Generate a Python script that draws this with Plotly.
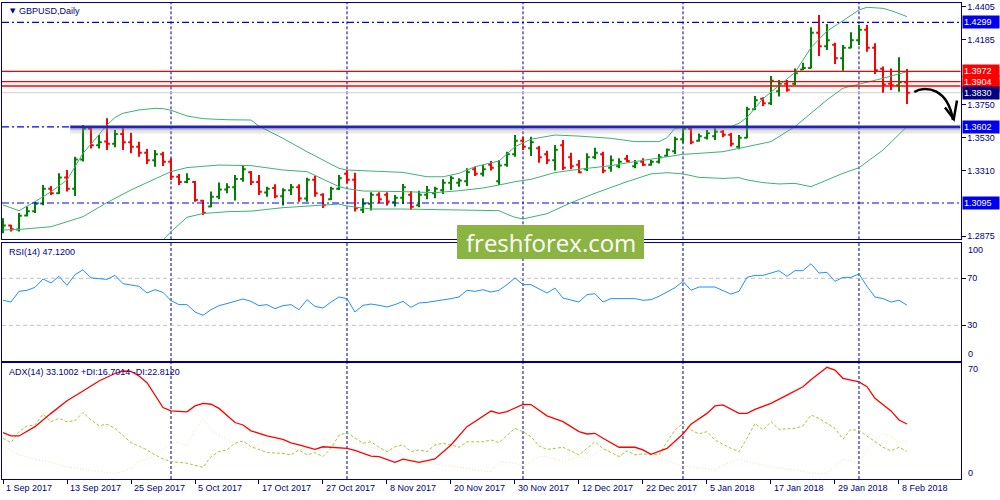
import plotly.graph_objects as go

# ---------------- data ----------------
BAR_IDX = list(range(114))  # trading days 1 Sep 2017 .. 9 Feb 2018
OPEN = [1.2910,1.2945,1.2918,1.3012,1.3040,1.3092,1.3190,1.3160,1.3265,1.3190,
        1.3385,1.3590,1.3480,1.3505,1.3490,1.3555,1.3500,1.3470,1.3430,1.3380,
        1.3420,1.3370,1.3270,1.3235,1.3235,1.3110,1.3072,1.3137,1.3185,1.3200,
        1.3255,1.3300,1.3235,1.3165,1.3195,1.3140,1.3180,1.3200,1.3125,1.3250,
        1.3150,1.3120,1.3190,1.3290,1.3250,1.3050,1.3090,1.3150,1.3150,1.3100,
        1.3130,1.3150,1.3080,1.3150,1.3160,1.3180,1.3230,1.3230,1.3240,1.3320,
        1.3290,1.3350,1.3240,1.3350,1.3420,1.3510,1.3460,1.3460,1.3420,1.3380,
        1.3480,1.3400,1.3350,1.3320,1.3400,1.3420,1.3330,1.3340,1.3390,1.3340,
        1.3370,1.3350,1.3370,1.3410,1.3440,1.3520,1.3590,1.3510,1.3530,1.3540,
        1.3570,1.3550,1.3470,1.3530,1.3720,1.3790,1.3760,1.3840,1.3890,1.3890,
        1.3985,1.3995,1.4230,1.4140,1.4150,1.4060,1.4130,1.4180,1.4250,1.4130,
        1.3990,1.3890,1.3880,1.3900]
HIGH = [1.2994,1.2950,1.3028,1.3072,1.3104,1.3215,1.3209,1.3293,1.3315,1.3404,
        1.3615,1.3608,1.3548,1.3659,1.3582,1.3593,1.3564,1.3504,1.3455,1.3448,
        1.3437,1.3393,1.3288,1.3293,1.3242,1.3115,1.3171,1.3231,1.3226,1.3282,
        1.3342,1.3308,1.3282,1.3204,1.3220,1.3193,1.3222,1.3220,1.3264,1.3275,
        1.3160,1.3204,1.3282,1.3315,1.3297,1.3126,1.3166,1.3166,1.3166,1.3149,
        1.3222,1.3175,1.3177,1.3209,1.3204,1.3253,1.3277,1.3260,1.3326,1.3337,
        1.3348,1.3375,1.3382,1.3437,1.3548,1.3537,1.3537,1.3475,1.3444,1.3482,
        1.3515,1.3430,1.3382,1.3426,1.3464,1.3437,1.3411,1.3393,1.3415,1.3382,
        1.3393,1.3382,1.3422,1.3459,1.3537,1.3604,1.3604,1.3559,1.3582,1.3593,
        1.3582,1.3564,1.3548,1.3737,1.3808,1.3799,1.3941,1.3915,1.3915,1.3992,
        1.4030,1.4266,1.4348,1.4288,1.4163,1.4148,1.4232,1.4281,1.4281,1.4159,
        1.4004,1.3992,1.4066,1.3988]
LOW = [1.2894,1.2905,1.2905,1.3005,1.3028,1.3080,1.3149,1.3155,1.3171,1.3142,
       1.3371,1.3459,1.3459,1.3448,1.3466,1.3448,1.3426,1.3404,1.3355,1.3337,
       1.3342,1.3248,1.3215,1.3226,1.3104,1.3016,1.3067,1.3120,1.3160,1.3111,
       1.3237,1.3215,1.3149,1.3137,1.3126,1.3078,1.3149,1.3104,1.3104,1.3137,
       1.3061,1.3115,1.3182,1.3226,1.3039,1.3028,1.3045,1.3093,1.3078,1.3072,
       1.3089,1.3050,1.3067,1.3120,1.3126,1.3155,1.3182,1.3204,1.3209,1.3275,
       1.3271,1.3311,1.3215,1.3337,1.3404,1.3448,1.3408,1.3364,1.3355,1.3311,
       1.3315,1.3320,1.3293,1.3308,1.3386,1.3293,1.3304,1.3326,1.3366,1.3326,
       1.3342,1.3344,1.3359,1.3404,1.3422,1.3493,1.3486,1.3504,1.3519,1.3515,
       1.3533,1.3471,1.3453,1.3526,1.3715,1.3741,1.3748,1.3804,1.3837,1.3881,
       1.3981,1.3992,1.4075,1.4114,1.4021,1.3977,1.4126,1.4148,1.4103,1.3955,
       1.3830,1.3848,1.3837,1.3755]
CLOSE = [1.2945,1.2920,1.3010,1.3040,1.3090,1.3190,1.3160,1.3265,1.3190,1.3385,
         1.3590,1.3480,1.3500,1.3490,1.3555,1.3500,1.3470,1.3430,1.3380,1.3420,
         1.3370,1.3270,1.3235,1.3255,1.3115,1.3030,1.3137,1.3185,1.3200,1.3255,
         1.3320,1.3235,1.3170,1.3190,1.3140,1.3180,1.3200,1.3125,1.3250,1.3160,
         1.3080,1.3190,1.3260,1.3250,1.3060,1.3090,1.3150,1.3120,1.3105,1.3130,
         1.3200,1.3070,1.3150,1.3180,1.3190,1.3230,1.3260,1.3245,1.3300,1.3290,
         1.3320,1.3330,1.3345,1.3420,1.3510,1.3470,1.3500,1.3400,1.3380,1.3450,
         1.3330,1.3340,1.3300,1.3400,1.3430,1.3310,1.3380,1.3370,1.3375,1.3360,
         1.3350,1.3370,1.3400,1.3450,1.3520,1.3590,1.3500,1.3540,1.3560,1.3570,
         1.3550,1.3490,1.3530,1.3720,1.3780,1.3760,1.3910,1.3890,1.3850,1.3960,
         1.3995,1.4230,1.4140,1.4180,1.4060,1.4130,1.4180,1.4250,1.4130,1.3980,
         1.3885,1.3880,1.3900,1.3830]

BB_UP_X = [0,2,4,6,8,10,11,13,14,15,17,19,20,21,23,25,28,31,32,35,38,42,43,46,50,53,55,57,59,62,
           64,66,69,72,76,79,82,83,84,86,89,91,92,93,95,97,99,101,103,105,107,108,110,111,113]
BB_UP = [1.3082,1.3044,1.3104,1.3170,1.3248,1.3426,1.3488,1.3615,1.3665,1.3693,1.3715,1.3726,1.3724,
         1.3713,1.3675,1.3657,1.3650,1.3648,1.3607,1.3526,1.3437,1.3326,1.3315,1.3310,1.3299,1.3270,
         1.3270,1.3293,1.3337,1.3375,1.3470,1.3520,1.3548,1.3541,1.3526,1.3504,1.3504,1.3530,1.3593,
         1.3604,1.3604,1.3604,1.3626,1.3665,1.3790,1.3880,1.3965,1.4130,1.4240,1.4310,1.4381,1.4399,
         1.4392,1.4377,1.4337]
BB_MID_X = [0,2,6,10,13,16,20,21,23,27,31,35,38,40,42,43,45,50,54,57,60,62,64,66,69,72,76,79,81,83,
            85,87,90,92,93,96,99,101,103,105,108,110,113]
BB_MID = [1.2915,1.2919,1.2937,1.3004,1.3098,1.3182,1.3280,1.3304,1.3331,1.3348,1.3344,1.3315,1.3304,
          1.3255,1.3204,1.3191,1.3175,1.3171,1.3164,1.3177,1.3195,1.3215,1.3237,1.3253,1.3298,1.3320,
          1.3344,1.3371,1.3386,1.3399,1.3419,1.3426,1.3437,1.3459,1.3470,1.3504,1.3604,1.3693,1.3782,
          1.3860,1.3897,1.3926,1.3970]
BB_LOW_X = [20,21,23,25,28,31,35,39,42,43,46,50,55,60,62,63,64,65,68,71,74,78,81,83,85,87,90,92,93,95,
            97,99,101,102,105,107,110,113]
BB_LOW = [1.2849,1.2904,1.3000,1.3025,1.3037,1.3041,1.3064,1.3080,1.3088,1.3075,1.3055,1.3055,1.3050,
          1.3046,1.3044,1.3020,1.3000,1.2989,1.3024,1.3097,1.3160,1.3237,1.3289,1.3297,1.3289,1.3266,
          1.3259,1.3264,1.3249,1.3231,1.3222,1.3226,1.3204,1.3226,1.3293,1.3330,1.3448,1.3604]

RSI = [51.3,49.8,58.9,59.8,62.3,69.4,66.0,71.7,64.0,73.1,77.3,70.3,69.7,69.1,72.5,65.4,64.3,63.2,57.5,60.3,
       58.0,51.0,47.6,47.6,41.3,38.5,43.3,46.7,48.5,50.5,52.4,50.4,46.7,47.6,44.2,46.7,47.6,43.3,51.8,46.1,
       44.7,49.8,54.1,52.7,41.3,47.0,48.1,47.0,45.6,47.6,50.4,45.3,49.0,49.5,50.4,51.5,52.7,54.1,59.8,58.9,
       60.3,58.3,59.8,64.6,70.3,64.6,64.6,61.0,57.5,61.7,53.2,51.5,49.8,56.1,56.9,49.8,52.7,52.7,52.7,52.7,
       51.3,51.8,54.7,58.0,62.0,67.4,59.8,62.6,62.6,62.6,59.5,56.6,58.9,70.8,72.5,72.5,74.5,76.5,71.7,76.5,
       76.5,82.4,74.5,75.1,67.4,70.8,70.8,73.7,63.2,54.1,52.7,49.8,51.3,47.12]

ADX_X = [0,1,2,4,6,8,10,12,14,15,16,17,18,19,20,21,22,23,24,25,26,27,29,30,31,33,35,36,37,39,40,42,43,44,
         46,47,49,50,52,54,56,58,61,62,63,65,66,68,70,72,73,74,75,77,79,80,81,83,85,86,88,89,90,92,93,94,
         96,98,100,101,103,104,105,107,108,109,111,112,113]
ADX = [27.9,25.9,25.9,31.5,39.5,47.1,53.0,59.0,63.5,65.0,64.8,62.0,58.0,50.5,43.0,41.0,40.6,40.4,44.0,
       45.5,45.0,42.5,34.0,32.5,29.0,25.9,23.9,21.8,20.5,17.8,19.4,19.0,18.4,17.2,13.8,13.5,10.0,11.9,
       10.0,12.1,20.5,31.5,40.9,39.5,40.6,44.9,44.8,38.0,34.5,28.5,27.1,27.5,24.5,19.1,19.1,17.5,14.8,
       18.4,27.1,33.0,39.5,44.0,44.6,39.5,39.5,41.9,45.5,50.5,55.5,59.8,67.2,65.6,60.6,58.4,55.6,48.6,
       41.0,35.5,33.1]
PDI_X = [0,1,2,3,4,5,6,7,8,9,10,11,12,13,14,15,16,18,19,20,21,23,24,25,26,27,28,29,30,31,32,33,35,36,37,
         38,39,40,41,42,43,44,45,46,47,48,49,50,51,52,53,54,55,56,57,58,60,61,62,64,65,66,67,68,70,72,74,
         75,77,78,79,80,82,83,84,85,86,87,88,89,91,92,93,94,95,96,97,99,100,101,102,104,105,106,107,108,
         110,111,112,113]
PDI = [24.5,21.9,28.5,31.9,32.5,39.1,34.5,36.5,34.5,35.1,40.1,35.5,32.1,32.9,30.5,26.4,21.9,17.5,14.5,
       12.1,10.5,9.5,8.4,7.0,13.5,16.5,17.5,21.5,22.9,19.4,17.8,15.9,15.4,14.5,17.5,14.5,15.9,13.5,18.4,
       26.4,27.9,24.5,21.5,22.4,19.1,16.5,19.4,20.5,16.5,17.5,16.5,20.5,21.5,20.5,19.1,22.4,22.4,23.5,
       21.9,30.5,28.5,25.5,19.9,17.8,19.1,14.5,22.4,18.4,13.5,17.0,14.5,15.1,14.5,22.4,29.5,33.5,29.5,
       27.1,28.5,23.5,18.4,16.5,24.5,33.5,29.5,34.5,29.9,30.5,31.9,38.5,36.5,30.5,24.0,29.9,29.1,25.9,
       19.1,17.0,19.1,16.7]
MDI_X = [0,2,4,6,8,10,12,14,15,16,17,19,20,21,22,23,24,25,26,28,30,31,33,35,36,38,40,41,42,44,45,47,49,
         51,53,55,58,59,61,62,64,65,67,68,70,72,73,75,76,77,78,80,81,83,85,87,89,90,92,93,95,97,100,101,
         103,104,105,107,108,109,110,111,112,113]
MDI = [19.9,14.5,11.9,10.0,7.4,5.8,4.4,3.4,4.4,6.5,10.5,13.8,17.5,21.5,21.9,19.9,29.5,36.0,29.5,23.5,
       19.1,18.4,22.9,23.1,18.4,17.5,24.5,21.5,18.4,21.9,21.1,17.5,17.0,11.4,9.5,8.4,6.5,5.4,4.4,10.5,
       9.5,7.8,13.5,13.5,10.5,13.5,11.9,18.4,15.9,13.5,16.5,18.4,13.5,10.5,7.8,6.5,5.4,8.4,11.9,10.5,
       8.4,6.5,4.8,3.4,3.4,7.4,11.9,9.5,17.5,23.5,27.5,25.5,21.9,22.8]

DATE_TICK_IDX = [0, 8, 16, 24, 32, 40, 48, 56, 64, 72, 80, 88, 96, 104, 112]
DATE_TICK_TEXT = ["1 Sep 2017", "13 Sep 2017", "25 Sep 2017", "5 Oct 2017", "17 Oct 2017",
                  "27 Oct 2017", "8 Nov 2017", "20 Nov 2017", "30 Nov 2017", "12 Dec 2017",
                  "22 Dec 2017", "5 Jan 2018", "17 Jan 2018", "29 Jan 2018", "8 Feb 2018"]
MONTH_START_IDX = [21, 43, 65, 85, 107]
PRICE_TICKS = [1.4405, 1.4185, 1.3750, 1.3530, 1.3310, 1.2875]
BLUE_LEVELS = [1.4299, 1.3602, 1.3095]
RED_LEVELS = [1.3972, 1.3904, 1.3875]
BID = 1.3830
SUPPORT = 1.3602
SUPPORT_FROM_IDX = 8.4
RSI_LEVELS = [70, 30]

# ---------------- styling / layout ----------------
W, H = 1000, 500
FONT = "Liberation Sans, Arial, sans-serif"
NAVY = "#000080"
def py(p):
    return 1 - p / H

XDOM = [0.002, 0.9605]
XR = [-0.125, 119.69]
MAIN_DOM = [py(239.3), py(2.7)]
RSI_DOM = [py(361.0), py(242.5)]
ADX_DOM = [py(479.0), py(362.7)]
PRICE_RANGE = [1.28533, 1.44296]

fig = go.Figure()
fig.add_trace(go.Ohlc(x=BAR_IDX, open=OPEN, high=HIGH, low=LOW, close=CLOSE,
                      increasing=dict(line=dict(color="#008000", width=2)),
                      decreasing=dict(line=dict(color="#FF0000", width=2)),
                      tickwidth=0.35, xaxis="x", yaxis="y", hoverinfo="skip"))
for xs, ys in [(BB_UP_X, BB_UP), (BB_MID_X, BB_MID), (BB_LOW_X, BB_LOW)]:
    fig.add_trace(go.Scatter(x=xs, y=ys, mode="lines", line=dict(color="#3CB371", width=1),
                             xaxis="x", yaxis="y", hoverinfo="skip"))
fig.add_trace(go.Scatter(x=BAR_IDX, y=RSI, mode="lines", line=dict(color="#1E90FF", width=1),
                         xaxis="x2", yaxis="y2", hoverinfo="skip"))
fig.add_trace(go.Scatter(x=MDI_X, y=MDI, mode="lines", line=dict(color="#F5DEB3", width=1, dash="1px,2px"),
                         xaxis="x3", yaxis="y3", hoverinfo="skip"))
fig.add_trace(go.Scatter(x=PDI_X, y=PDI, mode="lines", line=dict(color="#9ACD32", width=1, dash="3px,2px"),
                         xaxis="x3", yaxis="y3", hoverinfo="skip"))
fig.add_trace(go.Scatter(x=ADX_X, y=ADX, mode="lines", line=dict(color="#FF0000", width=1.3),
                         xaxis="x3", yaxis="y3", hoverinfo="skip"))

shapes = []
# month separators
for xr_, yr in [("x", "y domain"), ("x2", "y2 domain"), ("x3", "y3 domain")]:
    for idx in MONTH_START_IDX:
        shapes.append(dict(type="line", xref=xr_, yref=yr, x0=idx, x1=idx, y0=0, y1=1, layer="below",
                           line=dict(color=NAVY, width=1, dash="3px,2px")))
# RSI levels
for lv in RSI_LEVELS:
    shapes.append(dict(type="line", xref="x2 domain", yref="y2", x0=0, x1=1, y0=lv, y1=lv, layer="below",
                       line=dict(color="#C0C0C0", width=1, dash="4px,3px")))
# bid line
shapes.append(dict(type="line", xref="x domain", yref="y", x0=0, x1=1, y0=BID, y1=BID, layer="below",
                   line=dict(color="#CFCFCF", width=1)))
# blue dash-dot levels
for lv in BLUE_LEVELS:
    shapes.append(dict(type="line", xref="x domain", yref="y", x0=0, x1=1, y0=lv, y1=lv, layer="above",
                       line=dict(color="#0000FF", width=1.2, dash="7px,3px,2px,3px")))
# support shadow + thick line
shapes.append(dict(type="line", xref="x", yref="y", x0=SUPPORT_FROM_IDX, x1=XR[1], y0=SUPPORT - 0.0024,
                   y1=SUPPORT - 0.0024, layer="above", line=dict(color="rgba(150,150,150,0.22)", width=6)))
shapes.append(dict(type="line", xref="x", yref="y", x0=SUPPORT_FROM_IDX, x1=XR[1], y0=SUPPORT - 0.0012,
                   y1=SUPPORT - 0.0012, layer="above", line=dict(color="rgba(120,120,150,0.35)", width=3)))
shapes.append(dict(type="line", xref="x", yref="y", x0=SUPPORT_FROM_IDX, x1=XR[1], y0=SUPPORT, y1=SUPPORT,
                   layer="above", line=dict(color="#2424B8", width=2.6)))
# red levels
for lv in RED_LEVELS:
    shapes.append(dict(type="line", xref="x domain", yref="y", x0=0, x1=1, y0=lv, y1=lv, layer="above",
                       line=dict(color="#FF0000", width=1.4)))
# curved arrow
shapes.append(dict(type="path", xref="x", yref="y", layer="above",
                   path="M 113.9,1.3835 C 115.3,1.3881 118.1,1.3861 118.75,1.3648",
                   line=dict(color="black", width=2.5)))
shapes.append(dict(type="path", xref="x", yref="y", layer="above",
                   path="M 117.75,1.3732 L 118.85,1.3655 L 119.25,1.3778",
                   line=dict(color="black", width=2.5)))
# watermark box
shapes.append(dict(type="rect", xref="paper", yref="paper", x0=0.457, x1=0.644, y0=py(259), y1=py(225),
                   fillcolor="#8CB443", line=dict(width=0), layer="above"))

ann = []
def txt(x, y, s, size=9, color=NAVY, xanchor="left", xref="paper", yref="paper", **kw):
    d = dict(x=x, y=y, xref=xref, yref=yref, text=s, showarrow=False, xanchor=xanchor, yanchor="middle",
             font=dict(family=FONT, size=size, color=color))
    d.update(kw)
    ann.append(d)

txt(0.0075, py(10.5), "▼", font=dict(family="DejaVu Sans", size=7, color=NAVY))
txt(0.017, py(10.5), "GBPUSD,Daily")
txt(0.007, py(251.5), "RSI(14) 47.1200")
txt(0.007, py(372), "ADX(14) 33.1002 +DI:16.7014 -DI:22.8120")
# right scale extra labels
txt(0.9655, py(250), "100")
txt(0.9655, py(354), "0")
txt(0.9655, py(369.3), "70")
txt(0.9655, py(472.7), "0")
# date labels
for i, s in zip(DATE_TICK_IDX, DATE_TICK_TEXT):
    txt(i, py(488), s, xref="x3", xshift=1)

def box(val, bg):
    ann.append(dict(x=0.9622, xref="paper", y=val, yref="y", xanchor="left", yanchor="middle",
                    text=f"{val:.4f}", showarrow=False, bgcolor=bg, width=34, align="left", borderpad=1,
                    font=dict(family=FONT, size=9, color="white")))
box(1.4299, "#0000F0")
box(1.3972, "#FF0000")
box(1.3875, "#FF0000")
box(1.3904, "#FF0000")
box(BID, NAVY)
box(1.3602, "#0000F0")
box(1.3095, "#0000F0")

ann.append(dict(x=0.5505, y=py(242), xref="paper", yref="paper", text="freshforex.com", showarrow=False,
                xanchor="center", yanchor="middle", font=dict(family="Open Sans", size=24, color="white")))

axis_common = dict(showgrid=False, zeroline=False, showline=True, mirror=True, linecolor=NAVY, linewidth=1,
                   automargin=False)
fig.update_layout(
    width=W, height=H, margin=dict(l=0, r=0, t=0, b=0), template="none",
    paper_bgcolor="white", plot_bgcolor="white", showlegend=False, hovermode=False,
    xaxis=dict(domain=XDOM, range=XR, anchor="y", showticklabels=False, rangeslider=dict(visible=False), **axis_common),
    yaxis=dict(domain=MAIN_DOM, range=PRICE_RANGE, anchor="x", side="right", tickvals=PRICE_TICKS,
               ticktext=[f"{v:.4f}" for v in PRICE_TICKS], ticks="outside", ticklen=4, tickcolor=NAVY,
               tickfont=dict(family=FONT, size=9, color=NAVY), **axis_common),
    xaxis2=dict(domain=XDOM, range=XR, anchor="y2", showticklabels=False, **axis_common),
    yaxis2=dict(domain=RSI_DOM, range=[-0.38, 100.47], anchor="x2", side="right", tickvals=RSI_LEVELS,
                ticktext=[str(v) for v in RSI_LEVELS], ticks="outside", ticklen=4, tickcolor=NAVY,
                tickfont=dict(family=FONT, size=9, color=NAVY), **axis_common),
    xaxis3=dict(domain=XDOM, range=XR, anchor="y3", showticklabels=False, tickvals=DATE_TICK_IDX,
                ticks="outside", ticklen=4, tickcolor=NAVY, **axis_common),
    yaxis3=dict(domain=ADX_DOM, range=[0, 70], anchor="x3", side="right", showticklabels=False, **axis_common),
    shapes=shapes, annotations=ann,
)
fig.write_html("out.html", config={"displayModeBar": False, "staticPlot": True},
               post_script="document.body.style.margin='0';document.body.style.padding='0';"
                           "document.body.style.overflow='hidden';")
